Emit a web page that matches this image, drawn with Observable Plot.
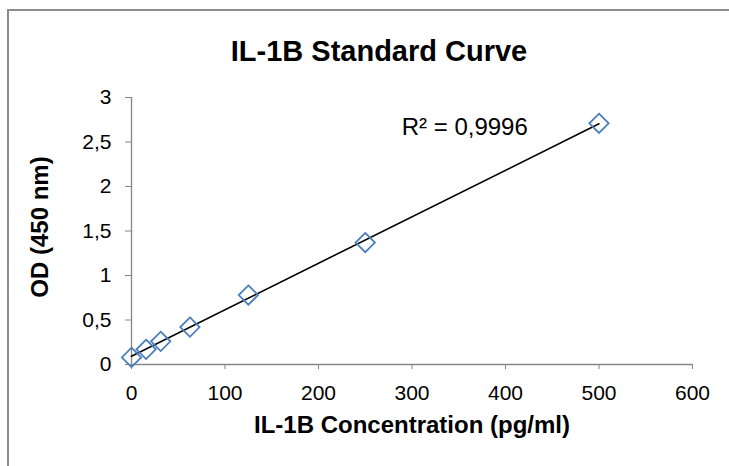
<!DOCTYPE html>
<html>
<head>
<meta charset="utf-8">
<script src="https://cdn.jsdelivr.net/npm/d3@7"></script>
<script src="https://cdn.jsdelivr.net/npm/@observablehq/plot@0.6"></script>
<style>
  html, body { margin: 0; padding: 0; background: #fff; overflow: hidden; }
  #chart svg { display: block; }
</style>
</head>
<body>
<div id="chart"></div>
<script>
const concentrations = [0, 15.625, 31.25, 62.5, 125, 250, 500];
const odValues = [0.08, 0.17, 0.26, 0.42, 0.78, 1.37, 2.71];
const xTicks = [0, 100, 200, 300, 400, 500, 600];
const yTicks = [0, 0.5, 1, 1.5, 2, 2.5, 3];
const chartTitle = "IL-1B Standard Curve";
const xLabel = "IL-1B Concentration (pg/ml)";
const yLabel = "OD (450 nm)";
const r2Label = "R² = 0,9996";

const points = concentrations.map((c, i) => ({x: c, y: odValues[i]}));

// least-squares trendline
const mx = d3.mean(concentrations), my = d3.mean(odValues);
const slope = d3.sum(points, p => (p.x - mx) * (p.y - my)) / d3.sum(points, p => (p.x - mx) ** 2);
const intercept = my - slope * mx;
const xMin = d3.min(concentrations), xMax = d3.max(concentrations);
const trend = [{x: xMin, y: intercept + slope * xMin}, {x: xMax, y: intercept + slope * xMax}];

const fmt = d => String(d).replace(".", ",");
const axisGray = "#868686";

const chart = Plot.plot({
  width: 729,
  height: 466,
  marginLeft: 131,
  marginRight: 37,
  marginTop: 97,
  marginBottom: 102,
  style: {fontFamily: "Liberation Sans, Arial, sans-serif", background: "#fff"},
  x: {domain: [0, 600]},
  y: {domain: [0, 3]},
  marks: [
    Plot.ruleY([0], {x1: 0, x2: 600, stroke: axisGray, strokeWidth: 1.3}),
    Plot.ruleX([0], {y1: 0, y2: 3, stroke: axisGray, strokeWidth: 1.3}),
    Plot.axisX({ticks: xTicks, tickSize: 5, tickPadding: 16, stroke: axisGray, fill: "#000", fontSize: 21, label: null, tickFormat: fmt}),
    Plot.axisY({ticks: yTicks, tickSize: 6, tickPadding: 14, stroke: axisGray, fill: "#000", fontSize: 21, label: null, tickFormat: fmt}),
    Plot.line(trend, {x: "x", y: "y", stroke: "#000", strokeWidth: 1.6}),
    Plot.dot(points, {x: "x", y: "y", symbol: "diamond2", r: 8.7, stroke: "#4a7ebb", strokeWidth: 1.8, fill: "none"}),
    Plot.text([r2Label], {x: 289, y: 2.66, text: d => d, textAnchor: "start", lineAnchor: "middle", fontSize: 24, fill: "#000"}),
    Plot.text([chartTitle], {frameAnchor: "top", dx: -33, dy: -45.5, textAnchor: "middle", lineAnchor: "middle", text: d => d, fontSize: 29, fontWeight: "bold", fill: "#000"}),
    Plot.text([xLabel], {frameAnchor: "bottom", dy: 61, textAnchor: "middle", lineAnchor: "middle", text: d => d, fontSize: 24, fontWeight: "bold", fill: "#000"}),
    Plot.text([yLabel], {frameAnchor: "left", dx: -91, dy: -4, textAnchor: "middle", lineAnchor: "middle", rotate: -90, text: d => d, fontSize: 24, fontWeight: "bold", fill: "#000"})
  ]
});

// outer chart-area border (only top and left edges are inside the picture)
d3.select(chart).insert("path", ":first-child")
  .attr("d", "M8,466V10H729")
  .attr("fill", "none").attr("stroke", "#8c8c8c").attr("stroke-width", 2);

document.getElementById("chart").appendChild(chart);
</script>
</body>
</html>
